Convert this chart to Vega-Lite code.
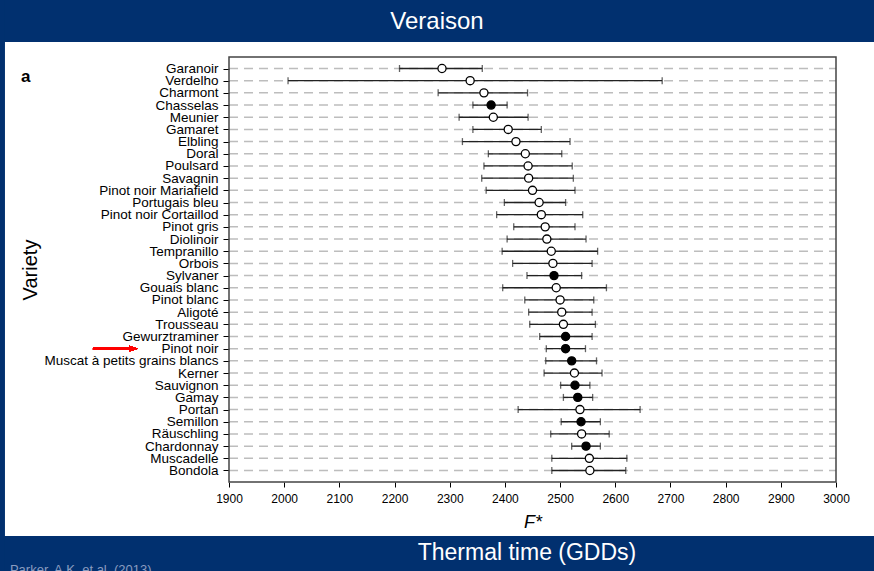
{
"$schema": "https://vega.github.io/schema/vega-lite/v6.json",
"width": 607,
"height": 425,
"autosize": {"type": "none"},
"padding": {"left": 229, "top": 57, "right": 38, "bottom": 89},
"background": "white",
"title": {"text": "Veraison", "color": "white", "fontSize": 24, "font": "Liberation Sans", "fontWeight": "normal", "anchor": "middle", "frame": "group", "dx": -95.5, "offset": -34},
"config": {
  "view": {"stroke": null},
  "font": "Liberation Sans",
  "axis": {"grid": false, "domain": false, "labelColor": "black", "tickColor": "black", "titleColor": "black", "titleFontWeight": "normal", "labelFont": "Liberation Sans", "titleFont": "Liberation Sans"}
},
"resolve": {"scale": {"y": "independent"}},
"layer": [
  {
    "data": {"values": [{}]},
    "mark": {"type": "rect", "fill": "#01306F"},
    "encoding": {
      "x": {"datum": 1485, "type": "quantitative", "title": "F*"},
      "x2": {"datum": 3070},
      "y": {"datum": 1.0353, "type": "quantitative", "scale": {"domain": [0, 1]}, "axis": null},
      "y2": {"datum": 1.1341}
    }
  },
  {
    "data": {"values": [{}]},
    "mark": {"type": "rect", "fill": "#01306F"},
    "encoding": {
      "x": {"datum": 1485, "type": "quantitative", "title": "F*"},
      "x2": {"datum": 3070},
      "y": {"datum": -0.2094, "type": "quantitative", "scale": {"domain": [0, 1]}, "axis": null},
      "y2": {"datum": -0.127}
    }
  },
  {
    "data": {"values": [{}]},
    "mark": {"type": "rect", "fill": "#01306F"},
    "encoding": {
      "x": {"datum": 1485, "type": "quantitative", "title": "F*"},
      "x2": {"datum": 1494},
      "y": {"datum": -0.2094, "type": "quantitative", "scale": {"domain": [0, 1]}, "axis": null},
      "y2": {"datum": 1.1341}
    }
  },
  {
    "data": {"values": [
      {"variety": "Garanoir", "mean": 2286, "lo": 2209, "hi": 2359, "type": "open"},
      {"variety": "Verdelho", "mean": 2337, "lo": 2007, "hi": 2685, "type": "open"},
      {"variety": "Charmont", "mean": 2362, "lo": 2279, "hi": 2441, "type": "open"},
      {"variety": "Chasselas", "mean": 2375, "lo": 2342, "hi": 2404, "type": "filled"},
      {"variety": "Meunier", "mean": 2379, "lo": 2317, "hi": 2442, "type": "open"},
      {"variety": "Gamaret", "mean": 2406, "lo": 2342, "hi": 2466, "type": "open"},
      {"variety": "Elbling", "mean": 2420, "lo": 2323, "hi": 2518, "type": "open"},
      {"variety": "Doral", "mean": 2437, "lo": 2370, "hi": 2503, "type": "open"},
      {"variety": "Poulsard", "mean": 2442, "lo": 2362, "hi": 2522, "type": "open"},
      {"variety": "Savagnin", "mean": 2443, "lo": 2358, "hi": 2524, "type": "open"},
      {"variety": "Pinot noir Mariafield", "mean": 2450, "lo": 2366, "hi": 2527, "type": "open"},
      {"variety": "Portugais bleu", "mean": 2462, "lo": 2399, "hi": 2510, "type": "open"},
      {"variety": "Pinot noir Cortaillod", "mean": 2466, "lo": 2385, "hi": 2541, "type": "open"},
      {"variety": "Pinot gris", "mean": 2473, "lo": 2416, "hi": 2527, "type": "open"},
      {"variety": "Diolinoir", "mean": 2476, "lo": 2404, "hi": 2547, "type": "open"},
      {"variety": "Tempranillo", "mean": 2484, "lo": 2395, "hi": 2568, "type": "open"},
      {"variety": "Orbois", "mean": 2487, "lo": 2414, "hi": 2558, "type": "open"},
      {"variety": "Sylvaner", "mean": 2489, "lo": 2440, "hi": 2539, "type": "filled"},
      {"variety": "Gouais blanc", "mean": 2493, "lo": 2396, "hi": 2584, "type": "open"},
      {"variety": "Pinot blanc", "mean": 2500, "lo": 2436, "hi": 2561, "type": "open"},
      {"variety": "Aligoté", "mean": 2503, "lo": 2443, "hi": 2558, "type": "open"},
      {"variety": "Trousseau", "mean": 2506, "lo": 2445, "hi": 2564, "type": "open"},
      {"variety": "Gewurztraminer", "mean": 2510, "lo": 2463, "hi": 2558, "type": "filled"},
      {"variety": "Pinot noir", "mean": 2510, "lo": 2475, "hi": 2546, "type": "filled"},
      {"variety": "Muscat à petits grains blancs", "mean": 2521, "lo": 2474, "hi": 2566, "type": "filled"},
      {"variety": "Kerner", "mean": 2526, "lo": 2471, "hi": 2576, "type": "open"},
      {"variety": "Sauvignon", "mean": 2527, "lo": 2501, "hi": 2554, "type": "filled"},
      {"variety": "Gamay", "mean": 2532, "lo": 2506, "hi": 2559, "type": "filled"},
      {"variety": "Portan", "mean": 2536, "lo": 2424, "hi": 2645, "type": "open"},
      {"variety": "Semillon", "mean": 2538, "lo": 2502, "hi": 2573, "type": "filled"},
      {"variety": "Räuschling", "mean": 2539, "lo": 2483, "hi": 2589, "type": "open"},
      {"variety": "Chardonnay", "mean": 2547, "lo": 2521, "hi": 2573, "type": "filled"},
      {"variety": "Muscadelle", "mean": 2553, "lo": 2485, "hi": 2621, "type": "open"},
      {"variety": "Bondola", "mean": 2554, "lo": 2485, "hi": 2619, "type": "open"}
    ]},
    "encoding": {
      "y": {"field": "variety", "type": "nominal", "sort": null, "title": "Variety",
        "scale": {"type": "point", "padding": 0.945},
        "axis": {"title": "Variety", "titleFontSize": 20, "titlePadding": 3, "labelFontSize": 13.5, "tickSize": 6, "labelPadding": 5, "tickWidth": 1}}
    },
    "layer": [
      {
        "mark": {"type": "rule", "color": "#bdbdbd", "strokeWidth": 1.5, "strokeDash": [9, 6]},
        "encoding": {
          "x": {"datum": 1900, "type": "quantitative", "title": "F*"},
          "x2": {"datum": 3000}
        }
      },
      {
        "mark": {"type": "rule", "color": "#222222", "strokeWidth": 1.3},
        "encoding": {
          "x": {"field": "lo", "type": "quantitative", "title": "F*",
            "scale": {"domain": [1900, 3000], "nice": false, "zero": false},
            "axis": {"title": "F*", "titleFontStyle": "italic", "titleFontSize": 18, "titlePadding": 9, "values": [1900, 2000, 2100, 2200, 2300, 2400, 2500, 2600, 2700, 2800, 2900, 3000], "labelFontSize": 12, "tickSize": 5, "labelPadding": 6, "tickWidth": 1, "labelFlush": false, "format": "d"}},
          "x2": {"field": "hi"}
        }
      },
      {
        "mark": {"type": "tick", "color": "#222222", "size": 7, "thickness": 1.3, "orient": "vertical"},
        "encoding": {"x": {"field": "lo", "type": "quantitative", "title": "F*"}}
      },
      {
        "mark": {"type": "tick", "color": "#222222", "size": 7, "thickness": 1.3, "orient": "vertical"},
        "encoding": {"x": {"field": "hi", "type": "quantitative", "title": "F*"}}
      },
      {
        "mark": {"type": "point", "filled": true, "size": 66, "stroke": "black", "strokeWidth": 1.3, "opacity": 1},
        "encoding": {
          "x": {"field": "mean", "type": "quantitative", "title": "F*"},
          "fill": {"field": "type", "type": "nominal", "scale": {"domain": ["filled", "open"], "range": ["black", "white"]}, "legend": null}
        }
      },
      {
        "mark": {"type": "rule", "color": "#ff0000", "strokeWidth": 2.5},
        "encoding": {
          "x": {"datum": 1653.5, "type": "quantitative", "title": "F*"},
          "x2": {"datum": 1721},
          "y": {"datum": "Pinot noir", "type": "nominal", "title": "Variety"}
        }
      },
      {
        "mark": {"type": "point", "filled": true, "shape": "M-1,-0.65L1,0L-1,0.65Z", "size": 81, "color": "#ff0000", "opacity": 1},
        "encoding": {
          "x": {"datum": 1727, "type": "quantitative", "title": "F*"},
          "y": {"datum": "Pinot noir", "type": "nominal", "title": "Variety"}
        }
      }
    ]
  },
  {
    "data": {"values": [{}]},
    "mark": {"type": "text", "text": "Thermal time (GDDs)", "color": "white", "fontSize": 23, "align": "center", "baseline": "middle"},
    "encoding": {
      "x": {"datum": 2440, "type": "quantitative", "title": "F*"},
      "y": {"datum": -0.167, "type": "quantitative", "scale": {"domain": [0, 1]}, "axis": null}
    }
  },
  {
    "data": {"values": [{}]},
    "mark": {"type": "text", "text": "Parker, A.K. et al. (2013)", "color": "#8a9cc0", "fontSize": 13, "align": "left", "baseline": "alphabetic"},
    "encoding": {
      "x": {"datum": 1503, "type": "quantitative", "title": "F*"},
      "y": {"datum": -0.2165, "type": "quantitative", "scale": {"domain": [0, 1]}, "axis": null}
    }
  },
  {
    "data": {"values": [{}]},
    "mark": {"type": "text", "text": "a", "color": "black", "fontSize": 17, "fontWeight": "bold", "align": "left", "baseline": "middle"},
    "encoding": {
      "x": {"datum": 1523, "type": "quantitative", "title": "F*"},
      "y": {"datum": 0.953, "type": "quantitative", "scale": {"domain": [0, 1]}, "axis": null}
    }
  },
  {
    "data": {"values": [{}]},
    "mark": {"type": "rect", "fill": "transparent", "stroke": "#444444", "strokeWidth": 1.5},
    "encoding": {
      "x": {"datum": 1900, "type": "quantitative", "title": "F*"},
      "x2": {"datum": 3000},
      "y": {"datum": 0, "type": "quantitative", "scale": {"domain": [0, 1]}, "axis": null},
      "y2": {"datum": 1}
    }
  }
]
}
